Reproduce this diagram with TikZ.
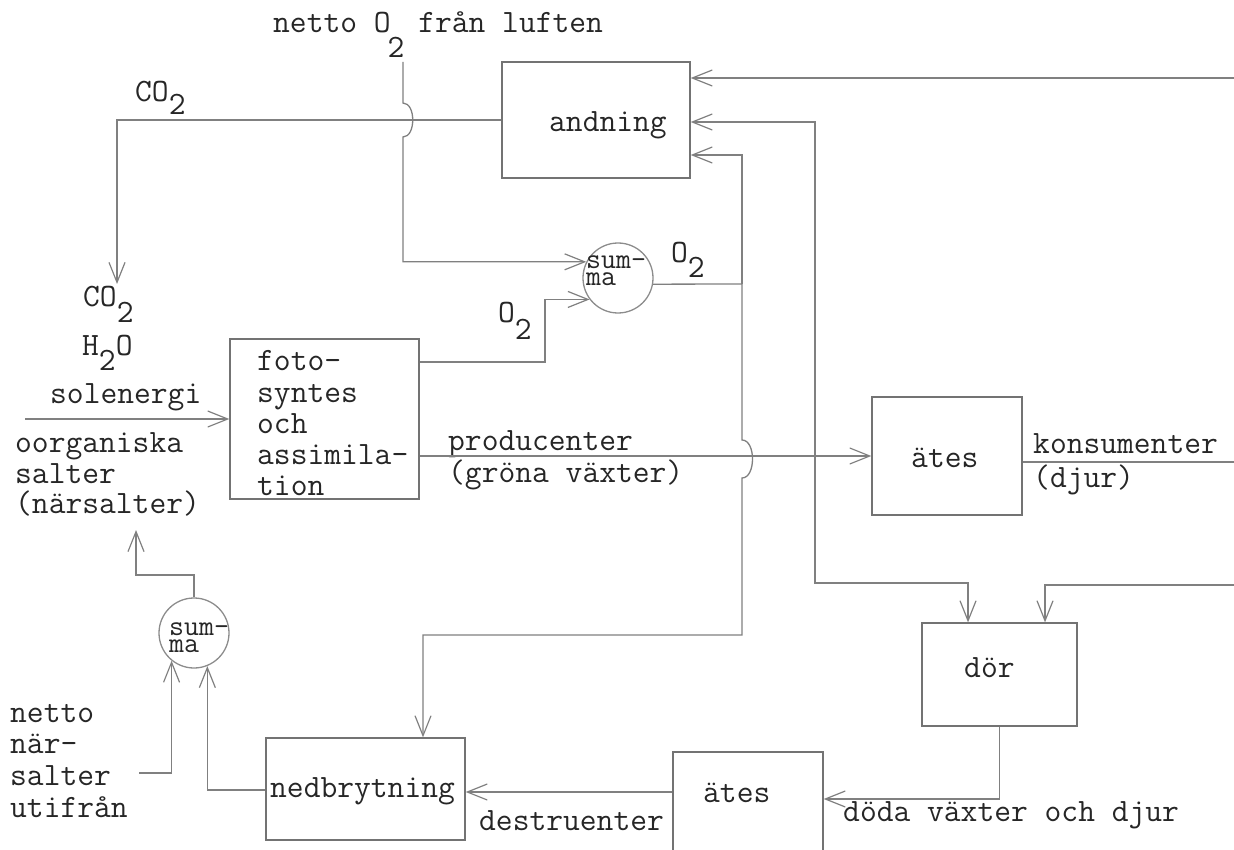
\documentclass[tikz,border=0pt]{standalone}
\usepackage{fontspec}
\usetikzlibrary{arrows.meta}
\tikzset{
  ln/.style={draw=black!50, line width=1.3pt},
  arr/.style={ln, -{Straight Barb[length=20pt,width=16pt,line width=1.2pt]}},
  box/.style={draw=black!55, line width=1.3pt, rectangle, inner sep=0pt},
  sumc/.style={draw=black!45, line width=1.3pt, circle, minimum size=70pt, inner sep=0pt},
  tt/.style={font=\ttfamily\fontsize{32.6}{31.7}\selectfont, text=black!85, inner sep=0pt, anchor=base west},
  sumtxt/.style={font=\ttfamily\fontsize{29}{17}\selectfont, text=black!85, inner sep=0pt, align=left, anchor=north west},
}
\begin{document}
\begin{tikzpicture}[x=1pt,y=-1pt]
\useasboundingbox (0,0) rectangle (1234,850);
\clip (0,0) rectangle (1234,850);

% boxes
\node[box, minimum width=188pt, minimum height=116pt] (andning) at (596,120) {};
\node[box, minimum width=189pt, minimum height=160pt] (foto) at (324.5,419) {};
\node[box, minimum width=150pt, minimum height=118pt] (ates1) at (947,456) {};
\node[box, minimum width=155pt, minimum height=103pt] (dor) at (999.5,674.5) {};
\node[box, minimum width=199pt, minimum height=102pt] (ned) at (365.5,789) {};
\node[box, minimum width=150pt, minimum height=118pt] (ates2) at (748,811) {};
\node[sumc] (sum1) at (618,278) {};
\node[sumc] (sum2) at (194,633) {};

% texts
\node[tt] (tnetto) at (273,33) {netto O\hspace{-3pt}\raisebox{-25pt}{2}\hspace{-3pt} från luften};
\node[tt] (tco2a) at (135,102) {CO\raisebox{-13pt}{2}};
\node[tt] (tco2b) at (83,307) {CO\raisebox{-16pt}{2}};
\node[tt] (th2o) at (82,355) {H\raisebox{-15pt}{2}O};
\node[tt] (tsol) at (50,403) {solenergi};
\node[tt] (toorg) at (15,452) {oorganiska};
\node[tt] (tsalt) at (15,483) {salter};
\node[tt] (tnars) at (15,513) {(närsalter)};
\node[tt] (tf1) at (257,370) {foto-};
\node[tt] (tf2) at (257,402) {syntes};
\node[tt] (tf3) at (257,433) {och};
\node[tt] (tf4) at (257,464) {assimila-};
\node[tt] (tf5) at (257,495) {tion};
\node[tt] (tand) at (549,132) {andning};
\node[tt] (to2a) at (671,263) {O\raisebox{-15pt}{2}};
\node[tt] (to2b) at (498,323) {O\raisebox{-17pt}{2}};
\node[sumtxt] (ts1) at (586,256) {sum-\\ma};
\node[sumtxt] (ts2) at (169,623) {sum-\\ma};
\node[tt] (tprod) at (448,450) {producenter};
\node[tt] (tgron) at (448,482) {(gröna växter)};
\node[tt] (tates1) at (911,467) {ätes};
\node[tt] (tkons) at (1033,453) {konsumenter};
\node[tt] (tdjur) at (1033,487) {(djur)};
\node[tt] (tdor) at (964,677) {dör};
\node[tt] (tdoda) at (843,821) {döda växter och djur};
\node[tt] (tates2) at (703,802) {ätes};
\node[tt] (tdest) at (479,830) {destruenter};
\node[tt] (tned) at (270,797) {nedbrytning};
\node[tt] (tn1) at (10,722) {netto};
\node[tt] (tn2) at (10,753) {när-};
\node[tt] (tn3) at (10,785) {salter};
\node[tt] (tn4) at (10,817) {utifrån};

% free ends / junctions
\coordinate (o2start) at (403,62);
\coordinate (co2tip) at (117,284);
\coordinate (j1) at (742,284);
\coordinate (j2) at (815,457);
\coordinate (aR) at (1234,78);
\coordinate (dR) at (1234,585);
\coordinate (kR) at (1234,462);
\coordinate (solL) at (25,419);
\coordinate (nnL) at (139,773);
\coordinate (narTip) at (136,530);

% connectors
\draw[arr] (andning.west) -- (117,120) -- (co2tip);
\draw[arr] (o2start) -- (403,103) .. controls (416,103) and (416,137) .. (403,137) |- (sum1.153);
\draw[arr] (foto.east |- 0,362) -- (545,362) |- (sum1.217);
\draw[ln] (sum1.-10) -- (j1);
\draw[arr] (j1) |- (andning.east |- 0,155);
\draw[arr] (j1) -- (742,440) .. controls (756,440) and (756,478) .. (742,478) -- (742,635) -| (ned.north -| 423,0);
\draw[arr] (foto.east |- ates1.west) -- (ates1.west);
\draw[arr] (j2) |- (andning.east |- 0,122);
\draw[arr] (j2) -- (815,583) -| (dor.north -| 968,0);
\draw[ln] (ates1.east |- 0,462) -- (kR);
\draw[arr] (aR) -- (andning.east |- aR);
\draw[arr] (dR) -| (dor.north -| 1045,0);
\draw[arr] (dor.south) |- (ates2.east |- 0,799);
\draw[arr] (ates2.west |- 0,792) -- (ned.east |- 0,792);
\draw[arr] (ned.west |- 0,790) -| (sum2.-68);
\draw[arr] (nnL) -| (sum2.-129);
\draw[arr] (sum2.north) -- (194,575) -| (narTip);
\draw[arr] (solL) -- (foto.west);
\end{tikzpicture}
\end{document}
